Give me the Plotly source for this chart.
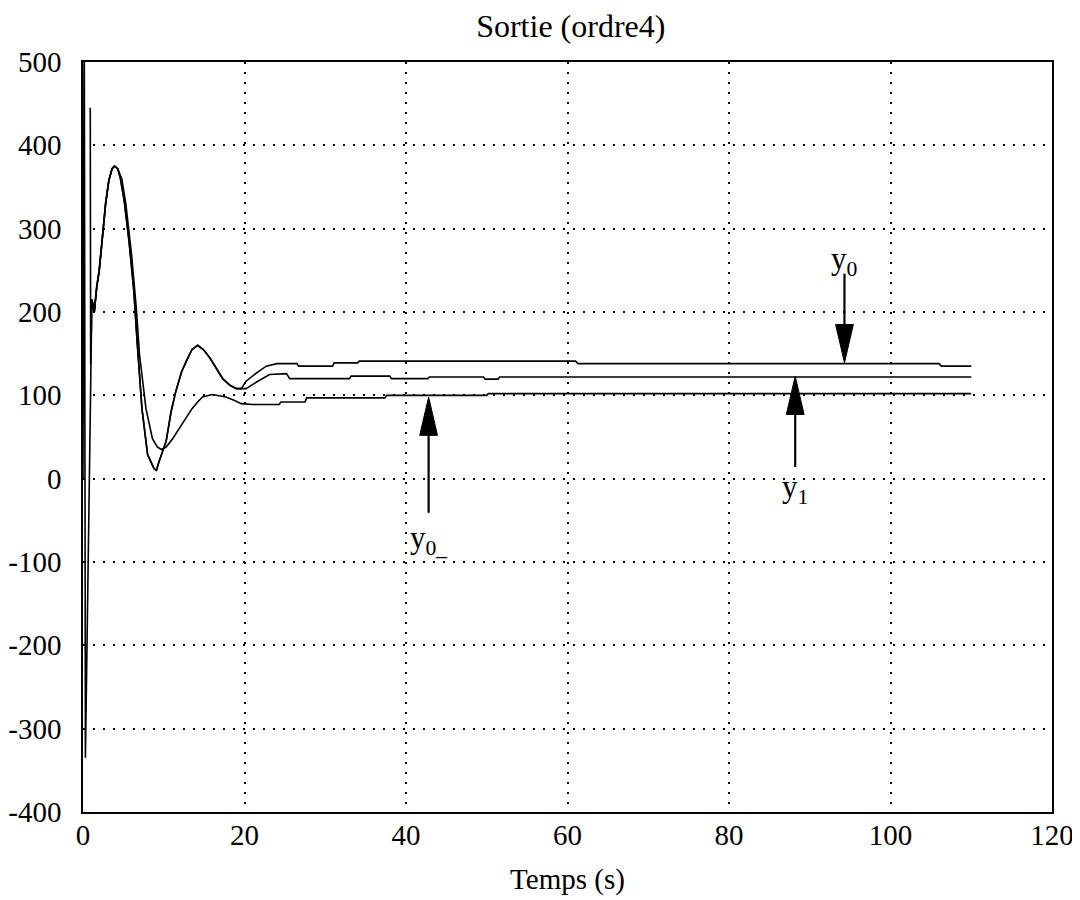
import plotly.graph_objects as go

# y0: start-up spike, then same path as y1 until ~20 s
t_y0 = [0, 0.15, 0.3, 1.1, 1.4, 1.7, 2.0, 2.4, 2.8, 3.2, 3.6, 3.9, 4.3, 4.6, 5.1,
        5.7, 6.3, 6.7, 7.3, 8.0, 8.8, 9.1, 9.4, 10.3, 10.9, 11.5, 12.2, 12.8, 13.5, 14.2, 14.9,
        15.7, 16.5, 17.3, 18.2, 19.0, 19.6, 20.2, 21.5, 22.7, 24.0, 26.5, 26.7, 30.9, 31.1, 34.0,
        34.2, 61.0, 61.3, 106.0, 106.3, 110.0]
y0 = [0, 600, -335, 215, 200, 230, 249, 289, 330, 358, 372, 375, 372, 362, 334,
      285, 225, 165, 84, 29, 12, 10, 20, 45, 80, 105, 128, 141, 155, 160, 155,
      145, 132, 120, 112, 108, 108, 117, 127, 135, 138, 138, 135, 135, 139, 139,
      141, 141, 138, 138, 135, 135]

t_y1 = [0.9, 0.95, 1.1, 1.4, 1.7, 2.0, 2.4, 2.8, 3.2, 3.6, 3.9, 4.3, 4.6, 5.1, 5.7, 6.3, 6.7, 7.3,
        8.0, 8.8, 9.1, 9.4, 10.3, 10.9, 11.5, 12.2, 12.8, 13.5, 14.2, 14.9, 15.7, 16.5, 17.3,
        18.2, 19.0, 19.6, 20.2, 21.5, 23.1, 25.2, 25.6, 33.0, 33.2, 38.0, 38.2, 42.7, 42.9, 49.6,
        49.8, 51.4, 51.6, 110.0]
y1 = [445, 137, 215, 200, 230, 249, 289, 330, 358, 372, 375, 372, 362, 334, 285, 225, 165, 84,
      29, 12, 10, 20, 45, 80, 105, 128, 141, 155, 160, 155, 145, 132, 120,
      112, 108, 108, 108, 116, 125, 126, 120, 120, 123, 123, 120, 120, 122, 122,
      119.5, 119.5, 122, 122]

t_y0m = [1.1, 1.4, 1.7, 2.0, 2.4, 2.8, 3.2, 3.6, 3.9, 4.3, 4.8, 5.3, 6.0, 6.6, 7.0, 7.8, 8.6, 9.2,
         9.7, 10.3, 11.1, 11.9, 12.7, 13.5, 14.2, 14.8, 16.0, 17.7, 18.7, 19.6, 21.0, 24.3, 24.5,
         27.5, 27.7, 37.4, 37.6, 50.0, 50.2, 110.0]
y0m = [215, 200, 230, 249, 289, 330, 358, 372, 375, 372, 360, 330, 270, 205, 149, 84, 48, 38,
       35, 38, 48, 60, 72, 84, 92, 98, 101, 98, 94, 90, 89, 89, 92,
       92, 97, 97, 100, 100, 102, 102]

x_ticks = [0, 20, 40, 60, 80, 100, 120]
y_ticks = [500, 400, 300, 200, 100, 0, -100, -200, -300, -400]
y_ticktext = [str(v) for v in y_ticks]  # plain hyphen, as in the scan

# arrows: label, x, tip y, tail y, label y
arrow_names = ["y<sub>0</sub>", "y<sub>1</sub>", "y<sub>0_</sub>"]
arrow_x = [94.3, 88.2, 42.8]
arrow_tip = [139, 123, 98]
arrow_tail = [246, 14, -41]
label_y = [261, -12, -74]
head_len = 46    # y units
head_half = 1.1  # x units

FONT = "Liberation Serif"

fig = go.Figure()
for t, v in [(t_y0, y0), (t_y1, y1), (t_y0m, y0m)]:
    fig.add_trace(go.Scatter(x=t, y=v, mode="lines", line=dict(color="black", width=1.6),
                             showlegend=False, hoverinfo="skip"))

for name, xa, tip, tail, ly in zip(arrow_names, arrow_x, arrow_tip, arrow_tail, label_y):
    d = 1 if tail > tip else -1
    base = tip + d * head_len
    fig.add_shape(type="line", x0=xa, y0=tail, x1=xa, y1=base, xref="x", yref="y",
                  line=dict(color="black", width=2.2))
    fig.add_shape(type="path", xref="x", yref="y",
                  path=f"M {xa - head_half},{base} L {xa + head_half},{base} L {xa},{tip} Z",
                  fillcolor="black", line=dict(color="black", width=1))
    fig.add_annotation(x=xa, y=ly, xref="x", yref="y", text=name, showarrow=False,
                       font=dict(family=FONT, size=31, color="black"))

axis_common = dict(showline=True, linecolor="black", linewidth=1.5, mirror=True,
                   showgrid=True, gridcolor="black", griddash="2px,8px", gridwidth=1.6,
                   zeroline=False, ticks="", automargin=False,
                   tickfont=dict(family=FONT, size=29, color="black"))

fig.update_xaxes(range=[0, 120], tickvals=x_ticks, ticklabelstandoff=-4,
                 title=dict(text="Temps (s)", standoff=19,
                            font=dict(family=FONT, size=29, color="black")),
                 **axis_common)
fig.update_yaxes(range=[-400, 500], tickvals=y_ticks, ticktext=y_ticktext,
                 ticklabelstandoff=14, **axis_common)

# the page adds an 8px body margin, so the figure is 8px smaller on each side
fig.update_layout(
    title=dict(text="Sortie (ordre4)", x=0.525, xanchor="center", y=0.98, yanchor="middle",
               font=dict(family=FONT, size=32, color="black")),
    width=1072, height=892,
    margin=dict(l=75, r=28, t=54, b=88),
    plot_bgcolor="white", paper_bgcolor="white",
)

fig.write_html("out.html")
